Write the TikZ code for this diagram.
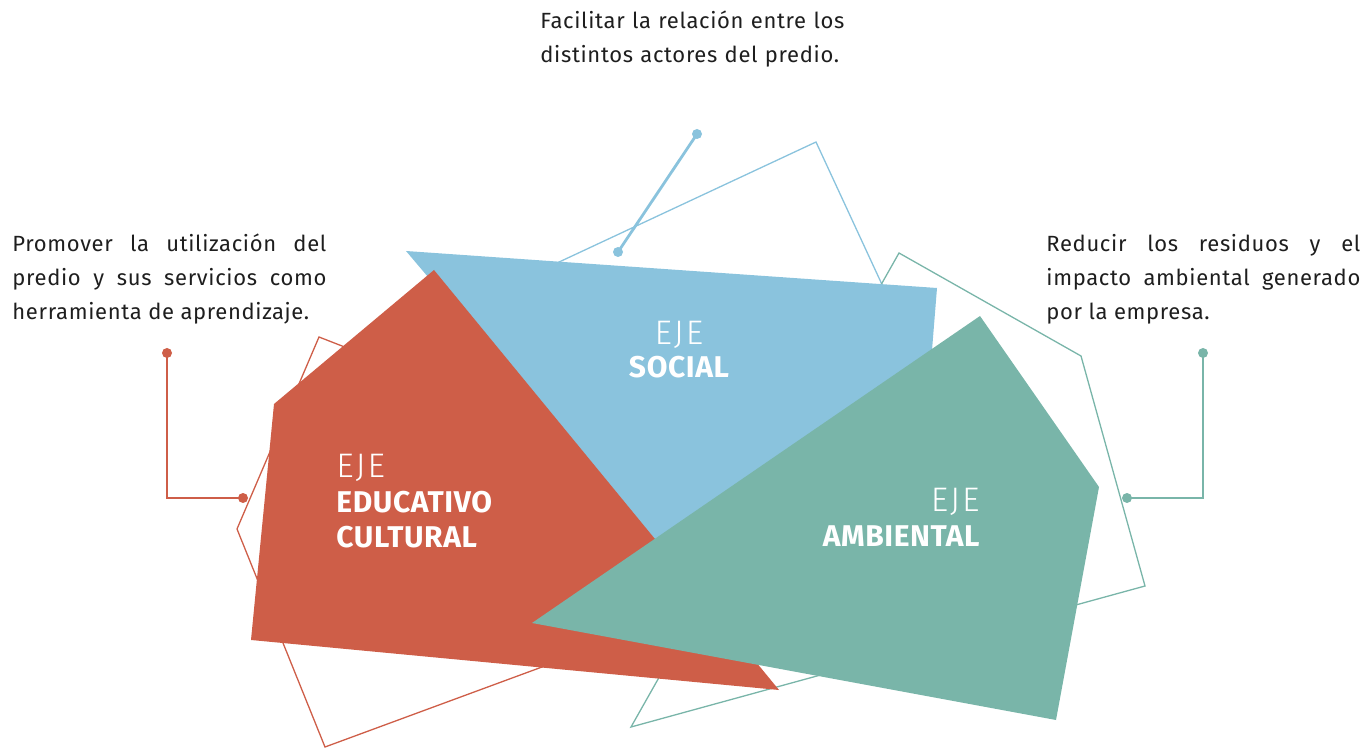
\documentclass[tikz,border=0pt]{standalone}
\usepackage{fontspec}
\setmainfont{Fira Sans}
\newfontfamily\textoabierto[LetterSpace=3]{Fira Sans}
\newfontfamily\ejefinoletra[LetterSpace=6]{Fira Sans Light}
\newfontfamily\ejegruesoletra[LetterSpace=2]{Fira Sans Bold}
\definecolor{ejerojo}{HTML}{CE5E48}
\definecolor{ejeazul}{HTML}{8AC3DD}
\definecolor{ejeverde}{HTML}{79B5A9}
\definecolor{textogris}{HTML}{1E1E1E}
\hyphenpenalty=10000

\begin{document}
\begin{tikzpicture}[x=0.5pt,y=-0.5pt,
  contorno/.style={line width=0.65pt},
  enlace/.style={line width=1.4pt},
  punto/.style={circle,inner sep=0pt,minimum size=5pt},
  parrafo/.style={text width=157pt,align=justify,inner sep=0pt,text=textogris,
    font=\textoabierto\fontsize{11}{17}\selectfont},
  ejefino/.style={inner sep=0pt,text=white,font=\ejefinoletra\fontsize{17}{17}\selectfont},
  ejegrueso/.style={inner sep=0pt,text=white,font=\ejegruesoletra\fontsize{15}{17}\selectfont}]
\useasboundingbox (0,0) rectangle (1365,748);

% contornos detras
\draw[contorno,ejeazul] (816,142) -- (557,263) -- (620,560) -- (935,399) -- cycle;
\draw[contorno,ejeverde] (631,727) -- (899,253) -- (1081,356) -- (1145,586) -- cycle;
\draw[contorno,ejerojo] (319,337) -- (237,529) -- (325,747) -- (862,549) -- cycle;

% figuras llenas
\fill[ejeazul] (406,251) -- (937,288) -- (928,400) -- (655,545) -- cycle;
\fill[ejerojo] (434,270) -- (274,404) -- (251,640) -- (779,690) -- cycle;
\fill[ejeverde] (980,316) -- (1099,487) -- (1056,720) -- (532,623) -- cycle;

% titulos
\node[ejefino,anchor=base west] (educ1) at (336,478) {EJE};
\node[ejegrueso,anchor=base west] (educ2) at (336,512) {EDUCATIVO};
\node[ejegrueso,anchor=base west] (educ3) at (336,547) {CULTURAL};
\node[ejefino,anchor=base] (soc1) at (679,345) {EJE};
\node[ejegrueso,anchor=base] (soc2) at (679,378) {SOCIAL};
\node[ejefino,anchor=base east] (amb1) at (980,511) {EJE};
\node[ejegrueso,anchor=base east] (amb2) at (980,546) {AMBIENTAL};

% textos
\node[parrafo,anchor=base west,align=left] (txsoc) at (540,29)
  {Facilitar la relación entre los\\distintos actores del predio.};
\node[parrafo,anchor=base west] (txeduc) at (12,252)
  {Promover la utilización del\linebreak predio y sus servicios como\linebreak herramienta de aprendizaje.};
\node[parrafo,anchor=base west] (txamb) at (1046,252)
  {Reducir los residuos y el\linebreak impacto ambiental generado\linebreak por la empresa.};

% enlaces
\node[punto,fill=ejeazul] (soca) at (697,134) {};
\node[punto,fill=ejeazul] (socb) at (618,252) {};
\draw[enlace,ejeazul] (soca.center) -- (socb.center);
\node[punto,fill=ejerojo] (educa) at (167,353) {};
\node[punto,fill=ejerojo] (educb) at (243,498) {};
\draw[enlace,ejerojo] (educa.center) |- (educb.center);
\node[punto,fill=ejeverde] (amba) at (1203,353) {};
\node[punto,fill=ejeverde] (ambb) at (1127,498) {};
\draw[enlace,ejeverde] (amba.center) |- (ambb.center);
\end{tikzpicture}
\end{document}
